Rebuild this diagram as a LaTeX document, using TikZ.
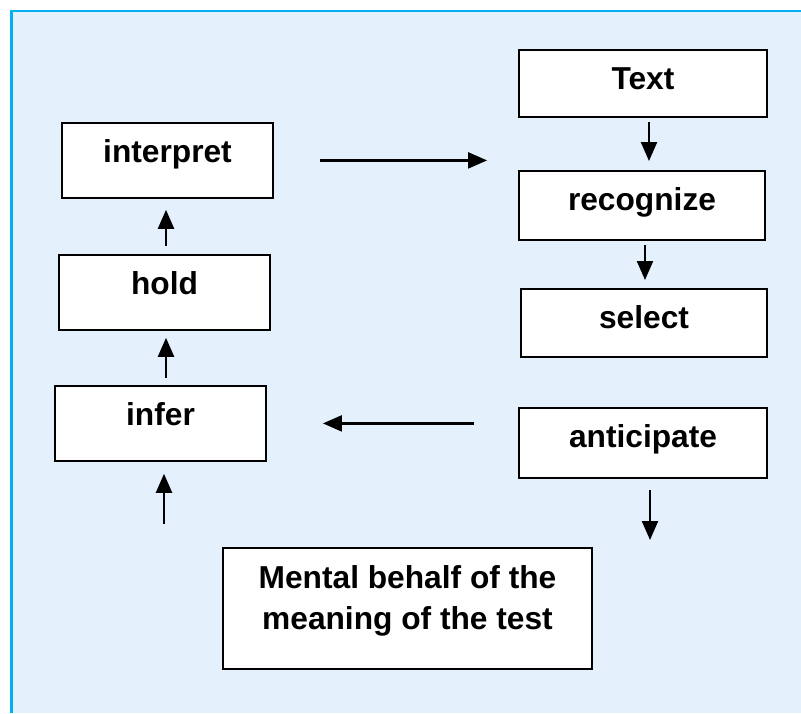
\documentclass[tikz,border=0pt]{standalone}
\usepackage{fontspec}
\setmainfont{Liberation Sans}
\usetikzlibrary{arrows.meta}

\definecolor{panelblue}{HTML}{E4F1FD}
\definecolor{framecyan}{HTML}{00B0F0}

\tikzset{
    stage/.style={draw, fill=white, line width=1.8pt, inner sep=0pt,
        font=\fontsize{31.7}{41}\selectfont\bfseries, text height=40pt, anchor=north},
    flow/.style={line width=2.2pt, -{Triangle[length=19pt,width=16pt]}}
}

\begin{document}
\begin{tikzpicture}[x=1pt, y=-1pt]

        % Panel with the cyan frame
        \useasboundingbox (0,0) rectangle (801,713);
        \fill[panelblue] (11.5,11) rectangle (801,713);
        \draw[framecyan, line width=2.4pt] (11.5,713) -- (11.5,11) -- (801,11);

        % Left column
        \node[stage, minimum width=211pt, text depth=35pt] (interp) at (167.5,122) {interpret};
        \node[stage, minimum width=211pt, text depth=35pt] (hold) at (164.5,254) {hold};
        \node[stage, minimum width=211pt, text depth=35pt] (infer) at (160.5,385) {infer};

        % Right column
        \node[stage, minimum width=248pt, text depth=27pt] (text) at (643,49) {Text};
        \node[stage, minimum width=246pt, text depth=29pt] (recog) at (642,170) {recognize};
        \node[stage, minimum width=246pt, text depth=28pt] (select) at (644,288) {select};
        \node[stage, minimum width=248pt, text depth=30pt] (antic) at (643,407) {anticipate};

        % Result box
        \node[stage, minimum width=369pt, text height=82pt, text depth=39pt, align=center] (mental) at (407.5,547)
            {Mental behalf of the\\meaning of the test};

        % Free ends
        \coordinate (src) at (164,524);
        \coordinate (sink) at (650,540);

        % Arrows
        \draw[flow, shorten <=46pt, shorten >=31pt] (interp.east) -- (interp.east -| recog.west);
        \draw[flow, shorten <=44pt, shorten >=56pt] (infer.east -| antic.west) -- (infer.east);
        \draw[flow, shorten <=4pt, shorten >=9pt] ([xshift=6pt]text.south) -- ([xshift=6pt]text.south |- recog.north);
        \draw[flow, shorten <=4pt, shorten >=8pt] ([xshift=3pt]recog.south) -- ([xshift=3pt]recog.south |- select.north);
        \draw[flow, shorten <=11pt] (antic.south -| sink) -- (sink);
        \draw[flow, shorten <=8pt, shorten >=11pt] ([xshift=1.5pt]hold.north) -- ([xshift=1.5pt]hold.north |- interp.south);
        \draw[flow, shorten <=7pt, shorten >=7pt] ([xshift=5.5pt]infer.north) -- ([xshift=5.5pt]infer.north |- hold.south);
        \draw[flow, shorten >=12pt] (src) -- (src |- infer.south);

\end{tikzpicture}
\end{document}
